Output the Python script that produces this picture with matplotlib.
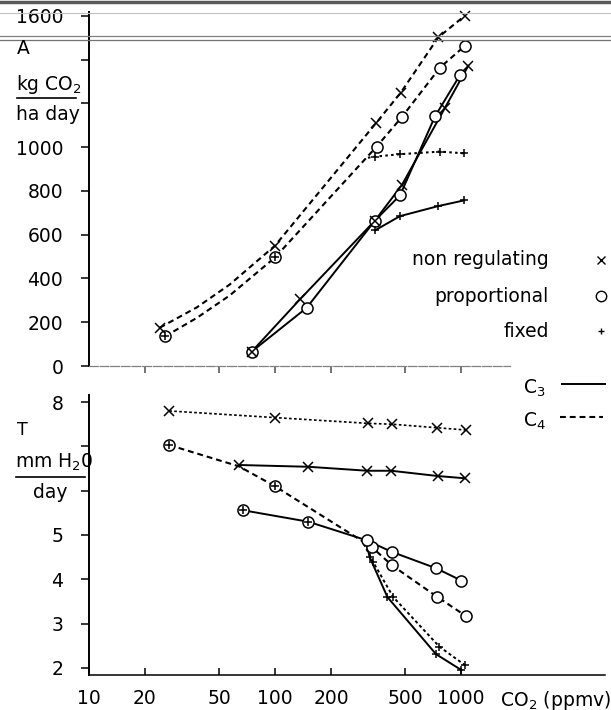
import matplotlib.pyplot as plt
from matplotlib.lines import Line2D
from matplotlib.ticker import FixedLocator, FixedFormatter, NullLocator

# panel A: assimilation, kg CO2 / ha day
# (some points carry no symbol, they only follow the bend of the drawn curve)
a_c4_nonreg_co2 = [24, 38, 57, 100, 349, 474, 755, 1052]
a_c4_nonreg = [175, 268, 372, 550, 1110, 1249, 1502, 1602]
a_c4_nonreg_plain = [1, 2]
a_c4_prop_co2 = [25.6, 38, 57, 100, 352, 480, 771, 1052]
a_c4_prop = [135, 220, 322, 496, 1003, 1137, 1364, 1464]
a_c4_prop_plain = [1, 2]
a_c4_fix_co2 = [25.6, 100, 316, 345, 470, 771, 1040]
a_c4_fix = [135, 496, 952, 957, 968, 980, 972]
a_c3_nonreg_co2 = [75, 136, 345, 480, 820, 1094]
a_c3_nonreg = [66, 304, 665, 826, 1180, 1372]
a_c3_prop_co2 = [75, 148, 345, 470, 725, 988]
a_c3_prop = [66, 266, 665, 780, 1141, 1330]
a_c3_fix_co2 = [345, 470, 755, 1040]
a_c3_fix = [620, 685, 731, 757]

# panel T: transpiration, mm H2O / day
t_c4_nonreg_co2 = [27, 100, 317, 428, 747, 1064]
t_c4_nonreg = [7.80, 7.65, 7.52, 7.50, 7.42, 7.37]
t_c3_nonreg_co2 = [64, 151, 314, 422, 754, 1052]
t_c3_nonreg = [6.58, 6.54, 6.45, 6.45, 6.33, 6.28]
t_c4_prop_co2 = [27, 64, 100, 331, 424, 747, 1064]
t_c4_prop = [7.03, 6.55, 6.10, 4.73, 4.32, 3.60, 3.17]
t_c4_prop_plain = [1]
t_c4_fix_co2 = [27, 100, 300, 337, 432, 765, 1052]
t_c4_fix = [7.03, 6.10, 4.80, 4.39, 3.60, 2.48, 2.06]
t_c3_prop_co2 = [67, 151, 311, 424, 734, 1006]
t_c3_prop = [5.56, 5.30, 4.88, 4.62, 4.25, 3.97]
t_c3_fix_co2 = [67, 151, 308, 323, 402, 734, 1006]
t_c3_fix = [5.56, 5.30, 4.85, 4.50, 3.60, 2.31, 1.95]

# the fixed curves leave the shared curve at index 2, which carries no marker
fix_branch = 2

a_yticks = [0, 200, 400, 600, 800, 1000, 1200, 1400, 1600]
a_ylabels = ['0', '200', '400', '600', '800', '1000', '', '', '1600']
t_yticks = [2, 3, 4, 5, 6, 7, 8]
t_ylabels = ['2', '3', '4', '5', '', '', '8']
xticks = [10, 20, 50, 100, 200, 500, 1000]
xlabels = ['10', '20', '50', '100', '200', '500', '1000']

W, H = 611, 710
FS = 13.5
DASH = (0, (2.8, 1.9))
DOT = (0, (1.2, 1.6))
SDASH = (0, (1.6, 1.4))


def fx(px):
    return px / W


def fy(py):
    return 1 - py / H


fig = plt.figure(figsize=(W / 100, H / 100), dpi=100)

# scanner streaks at the top of the page
for py, c, lw in [(1.5, '0.35', 2.5), (13, '0.75', 0.8), (36, '0.5', 0.9), (39.5, '0.45', 0.9)]:
    fig.add_artist(Line2D([0, 1], [fy(py), fy(py)], transform=fig.transFigure, color=c, lw=lw))

decade = 186.0
ax1 = fig.add_axes([fx(89), fy(366), fx(510 - 89), (366 - 12) / H])
ax2 = fig.add_axes([fx(89), fy(675), fx(605 - 89), (675 - 395) / H])

for ax in (ax1, ax2):
    ax.set_xscale('log')
    ax.spines['top'].set_visible(False)
    ax.spines['right'].set_visible(False)
    ax.spines['left'].set_linewidth(1.4)
    ax.spines['bottom'].set_linewidth(1.1)
    ax.xaxis.set_minor_locator(NullLocator())
    ax.tick_params(axis='y', direction='out', length=5.5, width=1.1, pad=13, labelsize=FS)

ax1.set_xlim(10, 10 ** (1 + (510 - 89) / decade))
ax2.set_xlim(10, 10 ** (1 + (605 - 89) / decade))
ax1.set_ylim(0, 1618)
ax2.set_ylim(1.84, 8.16)

ax1.spines['bottom'].set_color('0.5')
ax1.spines['bottom'].set_linewidth(0.9)
ax1.spines['bottom'].set_linestyle((0, (7, 1.5)))
ax1.xaxis.set_major_locator(FixedLocator(xticks[1:]))
ax1.xaxis.set_major_formatter(FixedFormatter([''] * 6))
ax1.tick_params(axis='x', direction='out', length=5, width=1.1, color='0.3')
ax2.xaxis.set_major_locator(FixedLocator(xticks))
ax2.xaxis.set_major_formatter(FixedFormatter(xlabels))
ax2.tick_params(axis='x', direction='in', length=5, width=1.1, pad=10, labelsize=FS)

ax1.set_yticks(a_yticks)
ax1.set_yticklabels(a_ylabels)
ax2.set_yticks(t_yticks)
ax2.set_yticklabels(t_ylabels)

mk = dict(ls='none', color='black', mew=1.1, clip_on=False)


def curve(ax, xs, ys, ls, marker, lw=1.3, start=0, plain=()):
    ax.plot(xs[start:], ys[start:], color='black', ls=ls, lw=lw, zorder=2, clip_on=False)
    mx = [v for i, v in enumerate(xs) if i not in plain]
    my = [v for i, v in enumerate(ys) if i not in plain]
    if marker == 'o':
        ax.plot(mx, my, 'o', ms=8, mfc='white', zorder=3, **mk)
    elif marker == 'x':
        ax.plot(mx, my, 'x', ms=6.5, zorder=4, **mk)
    else:
        ax.plot(mx, my, '+', ms=6, zorder=5, **mk)


# panel A
curve(ax1, a_c4_nonreg_co2, a_c4_nonreg, DASH, 'x', lw=1.5, plain=a_c4_nonreg_plain)
curve(ax1, a_c4_prop_co2, a_c4_prop, DASH, 'o', lw=1.5, plain=a_c4_prop_plain)
curve(ax1, a_c4_fix_co2, a_c4_fix, DOT, '+', lw=1.5, start=fix_branch, plain=[fix_branch])
curve(ax1, a_c3_nonreg_co2, a_c3_nonreg, '-', 'x', lw=1.4)
curve(ax1, a_c3_prop_co2, a_c3_prop, '-', 'o', lw=1.4)
curve(ax1, a_c3_fix_co2, a_c3_fix, '-', '+', lw=1.4)

# panel T
curve(ax2, t_c4_nonreg_co2, t_c4_nonreg, SDASH, 'x', lw=1.2)
curve(ax2, t_c3_nonreg_co2, t_c3_nonreg, '-', 'x', lw=1.4)
curve(ax2, t_c4_prop_co2, t_c4_prop, DASH, 'o', lw=1.5, plain=t_c4_prop_plain)
curve(ax2, t_c4_fix_co2, t_c4_fix, SDASH, '+', lw=1.4, start=fix_branch, plain=[fix_branch])
curve(ax2, t_c3_prop_co2, t_c3_prop, '-', 'o', lw=1.4)
curve(ax2, t_c3_fix_co2, t_c3_fix, '-', '+', lw=1.4, start=fix_branch, plain=[fix_branch])

# axis titles drawn as fractions
fig.text(fx(17), fy(49), 'A', fontsize=FS, va='center', ha='left')
fig.text(fx(16), fy(84), 'kg CO$_2$', fontsize=FS, va='center', ha='left')
fig.add_artist(Line2D([fx(17), fx(76)], [fy(98), fy(98)], transform=fig.transFigure, color='black', lw=1.2))
fig.text(fx(16), fy(114), 'ha day', fontsize=FS, va='center', ha='left')

fig.text(fx(17), fy(430), 'T', fontsize=FS - 1, va='center', ha='left')
fig.text(fx(15), fy(462), 'mm H$_2$0', fontsize=FS, va='center', ha='left')
fig.add_artist(Line2D([fx(16), fx(85)], [fy(477), fy(477)], transform=fig.transFigure, color='black', lw=1.2))
fig.text(fx(33), fy(492), 'day', fontsize=FS, va='center', ha='left')

fig.text(fx(500), fy(700), 'CO$_2$ (ppmv)', fontsize=FS, va='center', ha='left')

# key
for label, py, m in [('non regulating', 260, 'x'), ('proportional', 296, 'o'), ('fixed', 331, '+')]:
    fig.text(fx(549), fy(py), label, fontsize=FS, va='center', ha='right')
    size = {'x': 6, 'o': 7.5, '+': 5}[m]
    fig.add_artist(Line2D([fx(601)], [fy(py)], transform=fig.transFigure, marker=m, ms=size,
                          mfc='white', mec='black', mew=1.0, ls='none'))

fig.text(fx(523), fy(388), 'C$_3$', fontsize=FS, va='center', ha='left')
fig.add_artist(Line2D([fx(562), fx(605)], [fy(384), fy(384)], transform=fig.transFigure, color='black', lw=1.4))
fig.text(fx(523), fy(421), 'C$_4$', fontsize=FS, va='center', ha='left')
fig.add_artist(Line2D([fx(560), fx(603)], [fy(417), fy(417)], transform=fig.transFigure, color='black', lw=1.5, ls=DASH))

fig.savefig('out.png', dpi=100)
